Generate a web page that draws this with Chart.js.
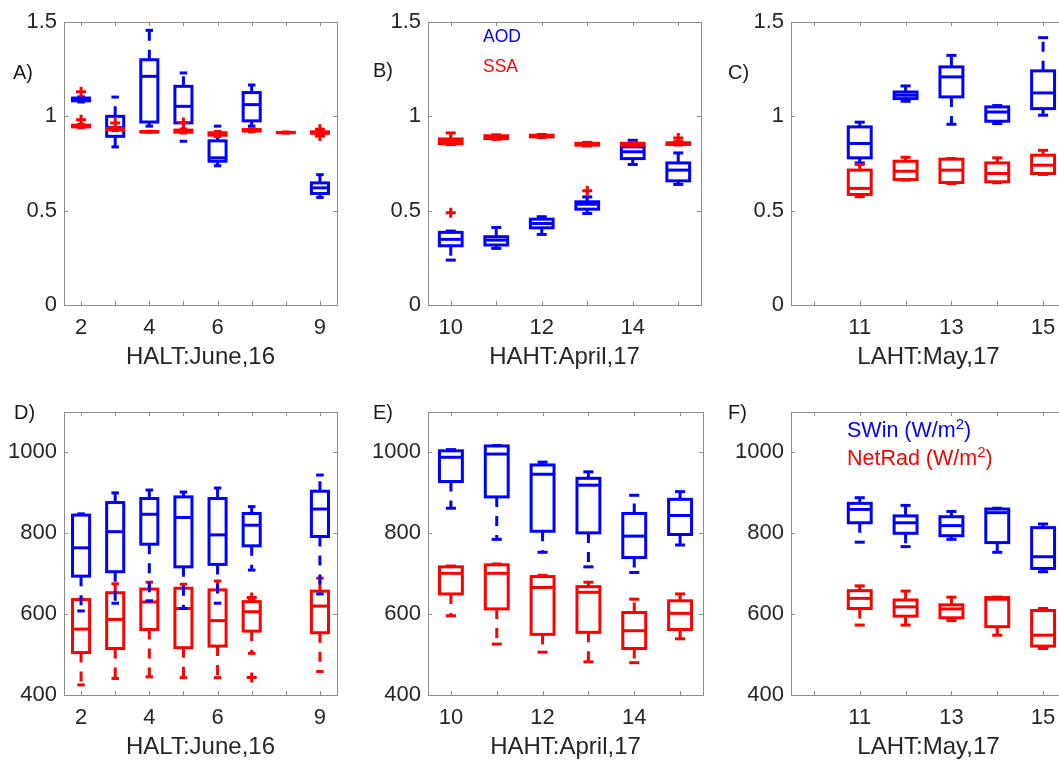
<!DOCTYPE html>
<html>
<head>
<meta charset="utf-8">
<script src="https://cdn.jsdelivr.net/npm/chart.js@4.4.1/dist/chart.umd.min.js"></script>
<style>
  body { margin: 0; background: #fff; }
  #page { position: relative; width: 1059px; height: 760px; overflow: hidden; background: #fff;
          font-family: "Liberation Sans", Arial, sans-serif; }
  canvas { position: absolute; }
  .lab { position: absolute; font-size: 20px; line-height: 20px; color: #1a1a1a; }
  .leg { position: absolute; line-height: 1; white-space: nowrap; }
  .leg sup { font-size: 0.7em; vertical-align: 0.5em; line-height: 0; }
</style>
</head>
<body>
<div id="page">
  <canvas id="chartA" width="345" height="370" style="left:0px;top:0px"></canvas>
  <canvas id="chartB" width="345" height="370" style="left:364px;top:0px"></canvas>
  <canvas id="chartC" width="345" height="370" style="left:727px;top:0px"></canvas>
  <canvas id="chartD" width="345" height="370" style="left:0px;top:390px"></canvas>
  <canvas id="chartE" width="345" height="370" style="left:364px;top:390px"></canvas>
  <canvas id="chartF" width="345" height="370" style="left:727px;top:390px"></canvas>

  <div class="lab" style="left:13px;top:62px">A)</div>
  <div class="lab" style="left:373px;top:60px">B)</div>
  <div class="lab" style="left:728px;top:62px">C)</div>
  <div class="lab" style="left:14px;top:402px">D)</div>
  <div class="lab" style="left:373px;top:402px">E)</div>
  <div class="lab" style="left:728px;top:402px">F)</div>

  <div class="leg" style="left:483px;top:28px;font-size:17.5px;color:#0000ff">AOD</div>
  <div class="leg" style="left:483px;top:58px;font-size:17.5px;color:#ff0000">SSA</div>
  <div class="leg" style="left:847px;top:420px;font-size:21.5px;color:#0000ff">SWin (W/m<sup>2</sup>)</div>
  <div class="leg" style="left:847px;top:448px;font-size:21.5px;color:#ff0000">NetRad (W/m<sup>2</sup>)</div>
</div>

<script>
// days on the x axis
const juneDays = [2, 3, 4, 5, 6, 7, 8, 9];
const aprilDays = [10, 11, 12, 13, 14, 15];
const mayDays = [11, 12, 13, 14, 15];

// tick marks / tick labels
const juneTicks = [2, 3, 4, 5, 6, 7, 8, 9];
const juneTickLabels = [2, 4, 6, 9];
const aprilTicks = [10, 11, 12, 13, 14, 15];
const aprilTickLabels = [10, 12, 14];
const mayTicks = [10, 11, 12, 13, 14, 15];
const mayTickLabels = [11, 13, 15];
const aodTicks = [0, 0.5, 1, 1.5];
const radTicks = [400, 600, 800, 1000];

// box stats per day: [min, q1, median, q3, max]  (null = no data)
const aodJune16 = [
  [1.076, 1.082, 1.09, 1.097, 1.103],
  [0.838, 0.894, 0.94, 1.0, 1.102],
  [0.948, 0.97, 1.212, 1.30, 1.456],
  [0.868, 0.965, 1.053, 1.159, 1.23],
  [0.738, 0.762, 0.78, 0.87, 0.948],
  [0.948, 0.976, 1.062, 1.126, 1.166],
  null,
  [0.57, 0.591, 0.621, 0.647, 0.691]
];
const ssaJune16 = [
  [0.94, 0.944, 0.949, 0.953, 0.958],
  [0.925, 0.928, 0.931, 0.935, 0.94],
  [0.916, 0.917, 0.918, 0.919, 0.921],
  [0.912, 0.916, 0.921, 0.927, 0.933],
  [0.893, 0.9, 0.907, 0.913, 0.92],
  [0.918, 0.922, 0.926, 0.93, 0.934],
  [0.911, 0.913, 0.914, 0.915, 0.917],
  [0.906, 0.91, 0.914, 0.918, 0.922]
];
const ssaJune16Out = [[2, 1.13], [2, 0.982], [3, 0.965], [5, 0.967], [9, 0.932], [9, 0.896]];

const aodApril17 = [
  [0.238, 0.314, 0.348, 0.385, 0.392],
  [0.30, 0.318, 0.344, 0.362, 0.411],
  [0.374, 0.409, 0.432, 0.455, 0.468],
  [0.485, 0.508, 0.534, 0.547, 0.573],
  [0.745, 0.776, 0.812, 0.838, 0.873],
  [0.639, 0.658, 0.715, 0.753, 0.806]
];
const ssaApril17 = [
  [0.85, 0.855, 0.868, 0.88, 0.912],
  [0.878, 0.882, 0.89, 0.897, 0.902],
  [0.888, 0.891, 0.896, 0.9, 0.904],
  [0.843, 0.847, 0.852, 0.857, 0.862],
  [0.843, 0.847, 0.852, 0.857, 0.862],
  [0.848, 0.851, 0.856, 0.86, 0.866]
];
const ssaApril17Out = [[10, 0.489], [13, 0.605], [15, 0.885]];

const aodMay17 = [
  [0.753, 0.78, 0.856, 0.944, 0.969],
  [1.08, 1.094, 1.112, 1.129, 1.161],
  [0.958, 1.103, 1.209, 1.262, 1.323],
  [0.962, 0.974, 1.023, 1.05, 1.057],
  [1.006, 1.041, 1.124, 1.241, 1.417]
];
const ssaMay17 = [
  [0.574, 0.586, 0.618, 0.715, 0.745],
  [0.662, 0.665, 0.709, 0.762, 0.783],
  [0.644, 0.649, 0.715, 0.773, 0.776],
  [0.648, 0.653, 0.697, 0.753, 0.78],
  [0.692, 0.697, 0.741, 0.794, 0.82]
];

const swinJune16 = [
  [608, 694, 764, 845, 848],
  [627, 705, 804, 876, 900],
  [633, 773, 847, 886, 907],
  [614, 717, 839, 890, 902],
  [627, 723, 796, 886, 912],
  [709, 769, 820, 849, 866],
  null,
  [650, 792, 860, 904, 944]
];
const netJune16 = [
  [425, 505, 563, 636, 637],
  [441, 515, 587, 653, 675],
  [445, 562, 630, 662, 679],
  [443, 517, 614, 664, 674],
  [443, 521, 584, 660, 682],
  [503, 558, 606, 631, 637],
  null,
  [458, 554, 620, 657, 689]
];
const netJune16Out = [[7, 641], [7, 443]];

const swinApril17 = [
  [862, 928, 988, 1004, 1007],
  [785, 890, 996, 1016, 1017],
  [753, 805, 946, 969, 976],
  [717, 801, 919, 936, 952],
  [703, 740, 793, 849, 894],
  [771, 797, 844, 884, 903]
];
const netApril17 = [
  [596, 650, 701, 717, 719],
  [526, 613, 701, 722, 724],
  [506, 550, 666, 693, 696],
  [482, 555, 654, 668, 679],
  [480, 515, 559, 604, 637],
  [539, 562, 602, 633, 650]
];

const swinMay17 = [
  [778, 826, 859, 874, 888],
  [767, 800, 826, 843, 869],
  [785, 794, 819, 841, 854],
  [753, 777, 851, 860, 862],
  [705, 713, 742, 814, 823]
];
const netMay17 = [
  [573, 614, 639, 658, 670],
  [573, 595, 618, 635, 657],
  [584, 591, 613, 623, 642],
  [548, 569, 637, 641, 642],
  [515, 521, 548, 609, 614]
];

const BLUE = '#0000ff';
const RED = '#ff0000';
const TXT = '#262626';
const FONT = '"Liberation Sans", Arial, sans-serif';

function line(ctx, x1, y1, x2, y2) {
  ctx.beginPath();
  ctx.moveTo(x1, y1);
  ctx.lineTo(x2, y2);
  ctx.stroke();
}

// one box: dashed whiskers, caps, box, median
function drawBox(ctx, xs, ys, day, s, color) {
  const [mn, q1, md, q3, mx] = s;
  const xc = xs.getPixelForValue(day);
  const xl = xs.getPixelForValue(day - 0.25), xr = xs.getPixelForValue(day + 0.25);
  const cl = xs.getPixelForValue(day - 0.11), cr = xs.getPixelForValue(day + 0.11);
  const yMin = ys.getPixelForValue(mn), yQ1 = ys.getPixelForValue(q1);
  const yMd = ys.getPixelForValue(md), yQ3 = ys.getPixelForValue(q3);
  const yMax = ys.getPixelForValue(mx);
  ctx.strokeStyle = color;
  ctx.lineWidth = 3;
  ctx.setLineDash([10, 9]);
  line(ctx, xc, yQ3, xc, yMax);
  line(ctx, xc, yQ1, xc, yMin);
  ctx.setLineDash([]);
  line(ctx, cl, yMax, cr, yMax);
  line(ctx, cl, yMin, cr, yMin);
  ctx.strokeRect(xl, yQ3, xr - xl, yQ1 - yQ3);
  line(ctx, xl, yMd, xr, yMd);
}

function boxPlugin(o) {
  return {
    id: 'boxes',
    beforeDatasetsDraw(chart) {
      const ctx = chart.ctx;
      const xs = chart.scales.x, ys = chart.scales.y;
      ctx.save();
      o.groups.forEach(g => {
        g.stats.forEach((s, i) => { if (s) drawBox(ctx, xs, ys, o.days[i], s, g.color); });
      });
      ctx.restore();
    },
    afterDraw(chart) {
      // axes frame with inward ticks
      const ctx = chart.ctx;
      const {left, right, top, bottom} = chart.chartArea;
      const xs = chart.scales.x, ys = chart.scales.y;
      ctx.save();
      ctx.strokeStyle = '#8c8c8c';
      ctx.lineWidth = 1;
      ctx.strokeRect(left + 0.5, top + 0.5, right - left, bottom - top);
      o.xTicks.forEach(v => {
        const px = Math.round(xs.getPixelForValue(v)) + 0.5;
        line(ctx, px, bottom, px, bottom - 4);
        line(ctx, px, top, px, top + 4);
      });
      o.yTicks.forEach(v => {
        const py = Math.round(ys.getPixelForValue(v)) + 0.5;
        line(ctx, left, py, left + 4, py);
        line(ctx, right, py, right - 4, py);
      });
      ctx.restore();
    }
  };
}

function makePanel(id, o) {
  const ctx = document.getElementById(id).getContext('2d');
  return new Chart(ctx, {
    type: 'scatter',
    data: {
      datasets: o.groups.map(g => ({
        data: g.out.map(p => ({ x: p[0], y: p[1] })),
        pointStyle: 'cross',
        radius: 5,
        borderWidth: 3,
        borderColor: g.color,
        backgroundColor: g.color
      }))
    },
    options: {
      responsive: false,
      animation: false,
      devicePixelRatio: 1,
      layout: { padding: { top: 22, right: 6, left: 0, bottom: 0 } },
      plugins: { legend: { display: false }, tooltip: { enabled: false } },
      scales: {
        x: {
          type: 'linear',
          min: o.xMin,
          max: o.xMax,
          afterBuildTicks: s => { s.ticks = o.xTicks.map(v => ({ value: v })); },
          afterFit: s => { s.height = 65; },
          grid: { display: false, drawTicks: false },
          border: { display: false },
          ticks: {
            autoSkip: false, maxRotation: 0, padding: 10, color: TXT,
            font: { family: FONT, size: 22 },
            callback: v => o.xLabels.includes(v) ? String(v) : ''
          },
          title: {
            display: true, text: o.title, color: TXT,
            font: { family: FONT, size: 24, lineHeight: 1 },
            padding: { top: 0, bottom: 1 }
          }
        },
        y: {
          type: 'linear',
          min: o.yMin,
          max: o.yMax,
          afterBuildTicks: s => { s.ticks = o.yTicks.map(v => ({ value: v })); },
          afterFit: s => { s.width = 64; },
          grid: { display: false, drawTicks: false },
          border: { display: false },
          ticks: {
            padding: 7, color: TXT,
            font: { family: FONT, size: 22 },
            callback: v => String(v)
          }
        }
      }
    },
    plugins: [boxPlugin(o)]
  });
}

makePanel('chartA', {
  days: juneDays, xMin: 1.5, xMax: 9.5, xTicks: juneTicks, xLabels: juneTickLabels,
  yMin: 0, yMax: 1.5, yTicks: aodTicks, title: 'HALT:June,16',
  groups: [
    { stats: aodJune16, out: [], color: BLUE },
    { stats: ssaJune16, out: ssaJune16Out, color: RED }
  ]
});
makePanel('chartB', {
  days: aprilDays, xMin: 9.5, xMax: 15.5, xTicks: aprilTicks, xLabels: aprilTickLabels,
  yMin: 0, yMax: 1.5, yTicks: aodTicks, title: 'HAHT:April,17',
  groups: [
    { stats: aodApril17, out: [], color: BLUE },
    { stats: ssaApril17, out: ssaApril17Out, color: RED }
  ]
});
makePanel('chartC', {
  days: mayDays, xMin: 9.5, xMax: 15.5, xTicks: mayTicks, xLabels: mayTickLabels,
  yMin: 0, yMax: 1.5, yTicks: aodTicks, title: 'LAHT:May,17',
  groups: [
    { stats: aodMay17, out: [], color: BLUE },
    { stats: ssaMay17, out: [], color: RED }
  ]
});
makePanel('chartD', {
  days: juneDays, xMin: 1.5, xMax: 9.5, xTicks: juneTicks, xLabels: juneTickLabels,
  yMin: 400, yMax: 1100, yTicks: radTicks, title: 'HALT:June,16',
  groups: [
    { stats: netJune16, out: netJune16Out, color: RED },
    { stats: swinJune16, out: [], color: BLUE }
  ]
});
makePanel('chartE', {
  days: aprilDays, xMin: 9.5, xMax: 15.5, xTicks: aprilTicks, xLabels: aprilTickLabels,
  yMin: 400, yMax: 1100, yTicks: radTicks, title: 'HAHT:April,17',
  groups: [
    { stats: netApril17, out: [], color: RED },
    { stats: swinApril17, out: [], color: BLUE }
  ]
});
makePanel('chartF', {
  days: mayDays, xMin: 9.5, xMax: 15.5, xTicks: mayTicks, xLabels: mayTickLabels,
  yMin: 400, yMax: 1100, yTicks: radTicks, title: 'LAHT:May,17',
  groups: [
    { stats: netMay17, out: [], color: RED },
    { stats: swinMay17, out: [], color: BLUE }
  ]
});
</script>
</body>
</html>
